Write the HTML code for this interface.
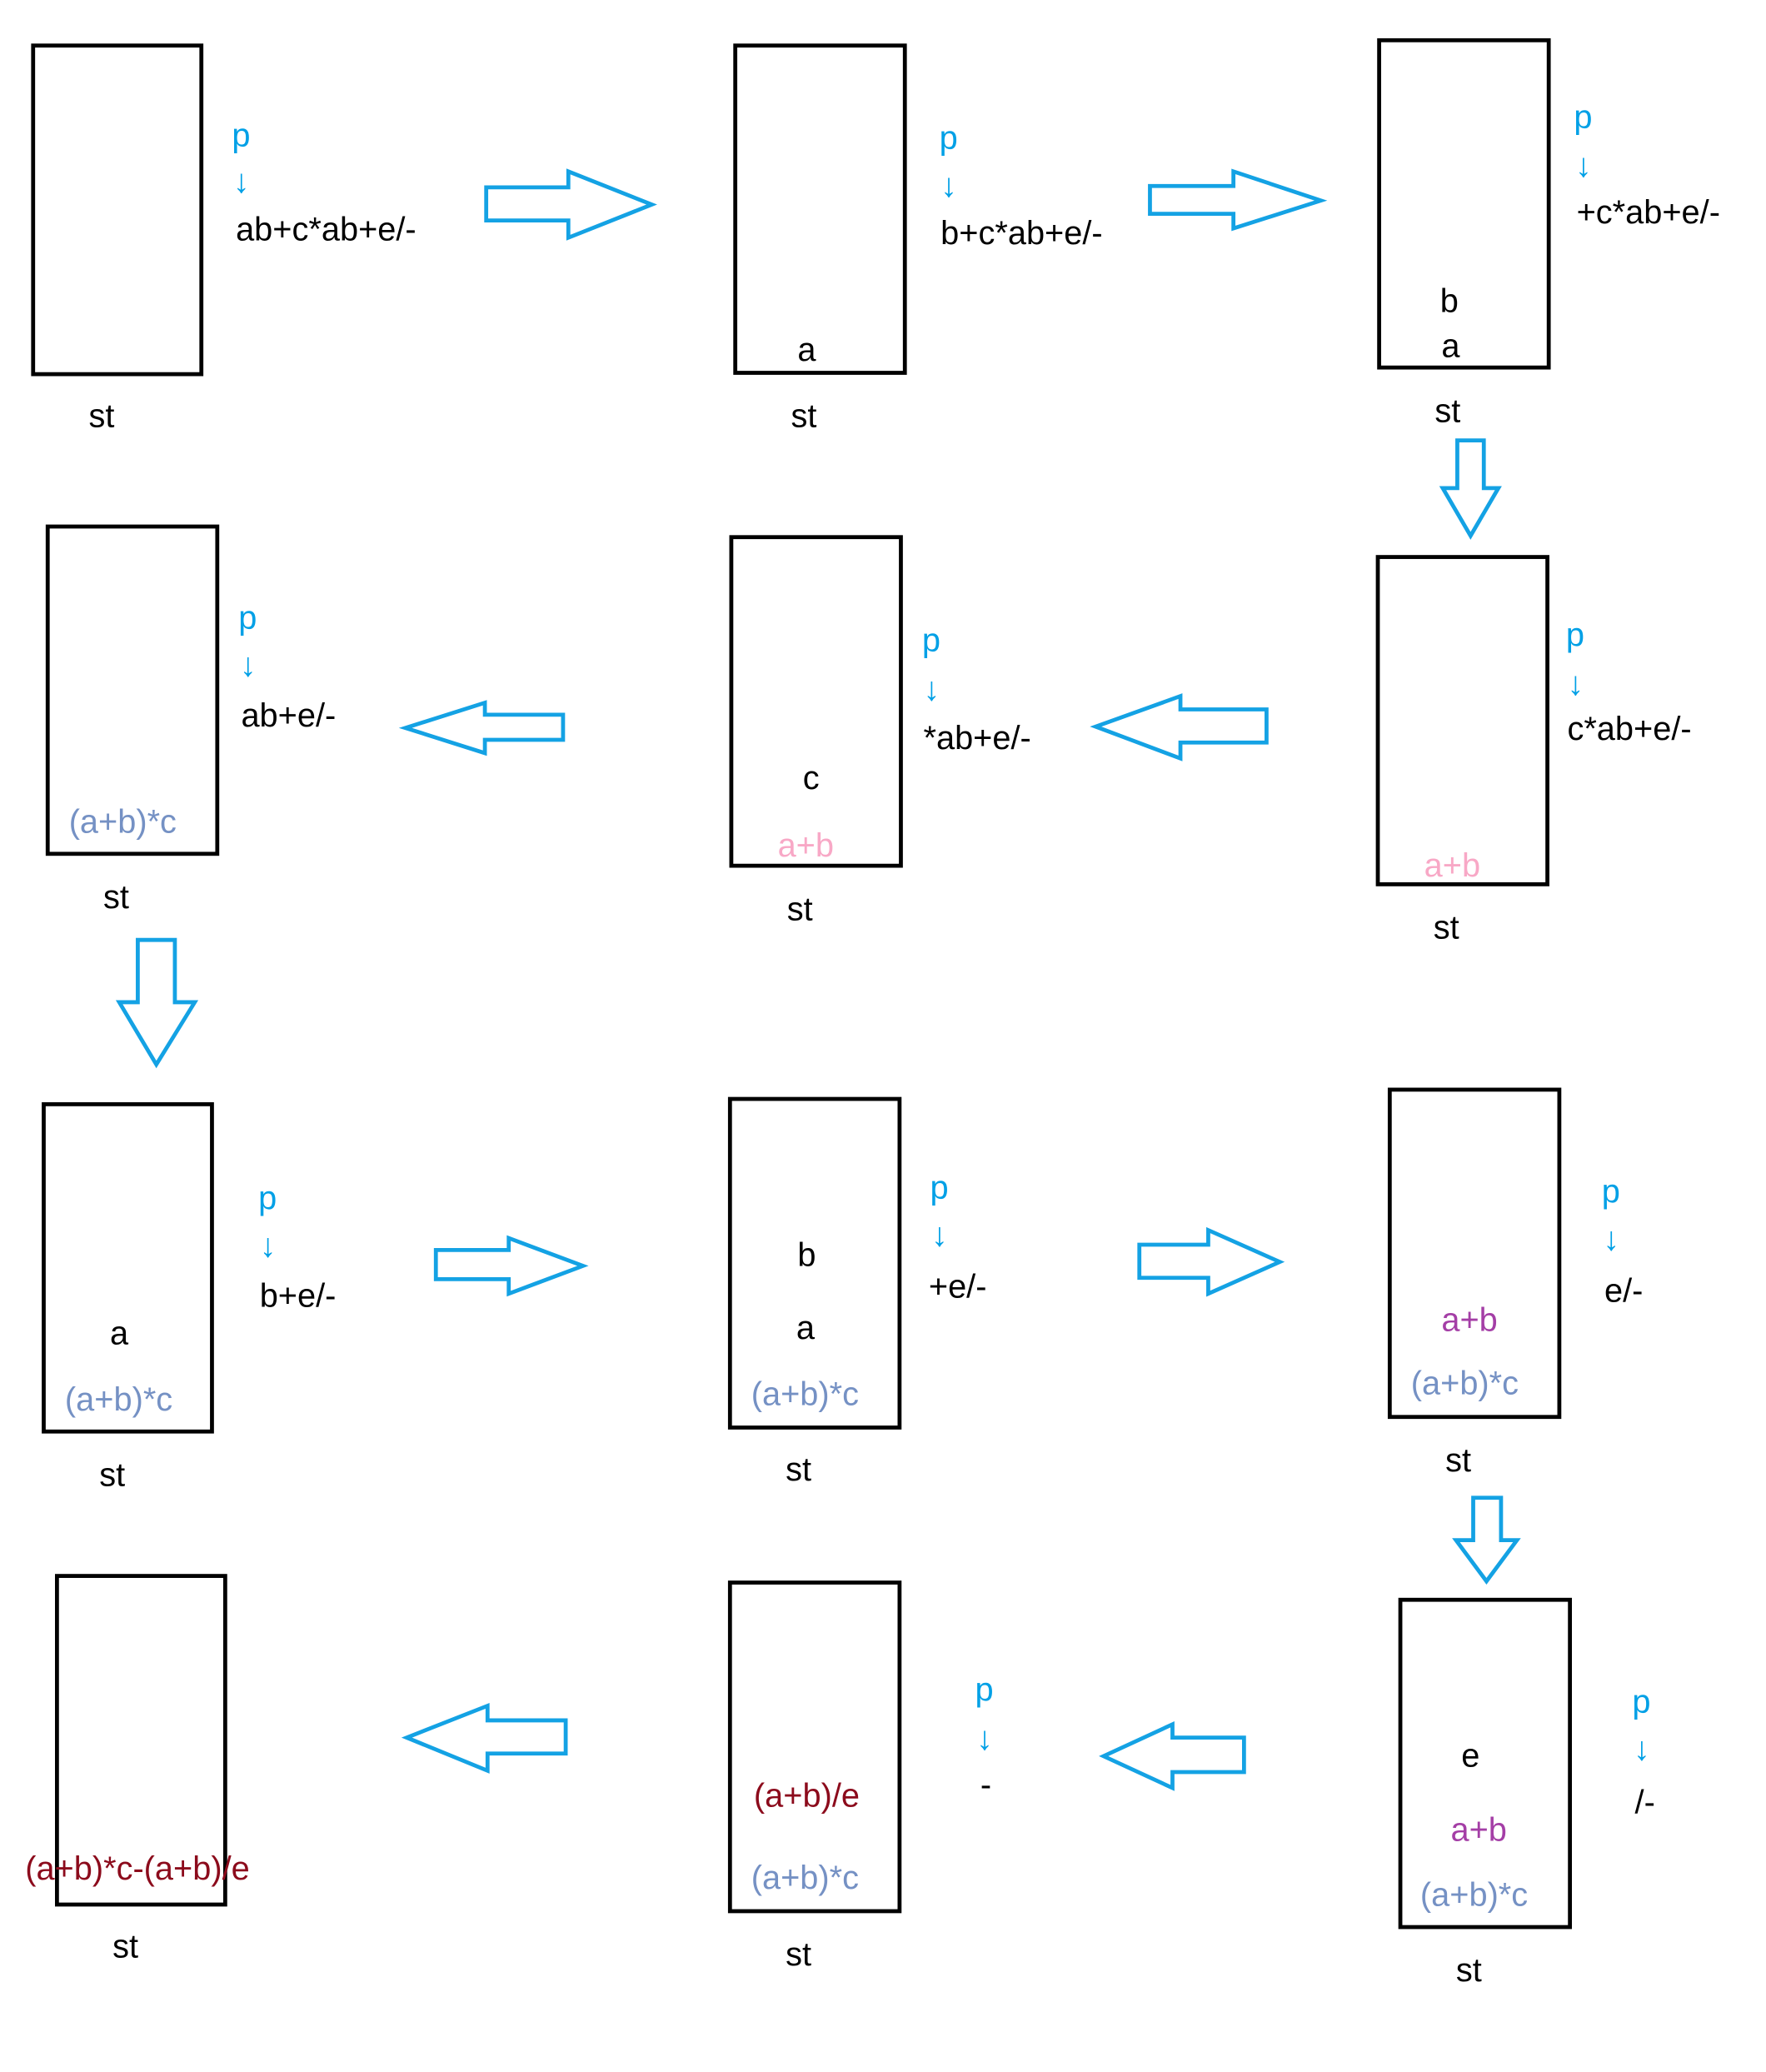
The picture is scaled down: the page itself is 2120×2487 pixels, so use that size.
<!DOCTYPE html>
<html><head><meta charset="utf-8"><style>
html,body{margin:0;padding:0;background:#fff;}
svg{display:block;}
text{font-family:"Liberation Sans",sans-serif;font-size:25px;}
.p{fill:#00a0e6;}
.k{fill:#000;}
.g{fill:#7591c4;}
.pk{fill:#f8a8c6;}
.pu{fill:#a43ea6;}
.r{fill:#8c0b1c;}
.bx{fill:none;stroke:#000;stroke-width:3;}
.ar{fill:#fff;stroke:#14a2e4;stroke-width:3;stroke-linejoin:miter;}
</style></head><body>
<svg width="2120" height="2487" viewBox="0 0 1333 1563" xmlns="http://www.w3.org/2000/svg">
<!-- boxes -->
<rect class="bx" x="25" y="34" width="127" height="248"/>
<rect class="bx" x="555" y="34" width="128" height="247"/>
<rect class="bx" x="1041" y="30" width="128" height="247"/>
<rect class="bx" x="36" y="397" width="128" height="247"/>
<rect class="bx" x="552" y="405" width="128" height="248"/>
<rect class="bx" x="1040" y="420" width="128" height="247"/>
<rect class="bx" x="33" y="833" width="127" height="247"/>
<rect class="bx" x="551" y="829" width="128" height="248"/>
<rect class="bx" x="1049" y="822" width="128" height="247"/>
<rect class="bx" x="43" y="1189" width="127" height="248"/>
<rect class="bx" x="551" y="1194" width="128" height="248"/>
<rect class="bx" x="1057" y="1207" width="128" height="247"/>

<!-- arrows -->
<polygon class="ar" points="367,141 429,141 429,129 492,154 429,179 429,166 367,166"/>
<polygon class="ar" points="868,140 931,140 931,129 997,151 931,172 931,161 868,161"/>
<polygon class="ar" points="1100,332 1120,332 1120,368 1131,368 1110,404 1089,368 1100,368"/>
<polygon class="ar" points="425,539 366,539 366,530 306,549 366,568 366,558 425,558"/>
<polygon class="ar" points="956,535 891,535 891,525 827,548 891,572 891,560 956,560"/>
<polygon class="ar" points="104,709 132,709 132,756 147,756 118,803 90,756 104,756"/>
<polygon class="ar" points="329,943 384,943 384,934 440,955 384,976 384,965 329,965"/>
<polygon class="ar" points="860,939 912,939 912,928 966,952 912,976 912,964 860,964"/>
<polygon class="ar" points="1112,1130 1133,1130 1133,1162 1145,1162 1122,1193 1099,1162 1112,1162"/>
<polygon class="ar" points="939,1311 885,1311 885,1301 833,1325 885,1349 885,1337 939,1337"/>
<polygon class="ar" points="427,1298 368,1298 368,1287 307,1311 368,1336 368,1323 427,1323"/>

<!-- B1 -->
<text class="p" x="175" y="110">p</text><text class="p" x="176" y="145">↓</text>
<text class="k" x="178" y="181">ab+c*ab+e/-</text>
<text class="k" x="67" y="322">st</text>
<!-- B2 -->
<text class="p" x="709" y="112">p</text><text class="p" x="710" y="148">↓</text>
<text class="k" x="710" y="184">b+c*ab+e/-</text>
<text class="k" x="602" y="272">a</text>
<text class="k" x="597" y="322">st</text>
<!-- B3 -->
<text class="p" x="1188" y="96">p</text><text class="p" x="1189" y="133">↓</text>
<text class="k" x="1190" y="168">+c*ab+e/-</text>
<text class="k" x="1087" y="235">b</text>
<text class="k" x="1088" y="269">a</text>
<text class="k" x="1083" y="318">st</text>
<!-- B4 -->
<text class="p" x="180" y="474">p</text><text class="p" x="181" y="510">↓</text>
<text class="k" x="182" y="548">ab+e/-</text>
<text class="g" x="52" y="628">(a+b)*c</text>
<text class="k" x="78" y="685">st</text>
<!-- B5 -->
<text class="p" x="696" y="491">p</text><text class="p" x="697" y="528">↓</text>
<text class="k" x="697" y="565">*ab+e/-</text>
<text class="k" x="606" y="595">c</text>
<text class="pk" x="587" y="646">a+b</text>
<text class="k" x="594" y="694">st</text>
<!-- B6 -->
<text class="p" x="1182" y="487">p</text><text class="p" x="1183" y="524">↓</text>
<text class="k" x="1183" y="558">c*ab+e/-</text>
<text class="pk" x="1075" y="661">a+b</text>
<text class="k" x="1082" y="708">st</text>
<!-- B7 -->
<text class="p" x="195" y="912">p</text><text class="p" x="196" y="948">↓</text>
<text class="k" x="196" y="986">b+e/-</text>
<text class="k" x="83" y="1014">a</text>
<text class="g" x="49" y="1064">(a+b)*c</text>
<text class="k" x="75" y="1121">st</text>
<!-- B8 -->
<text class="p" x="702" y="904">p</text><text class="p" x="703" y="940">↓</text>
<text class="k" x="701" y="979">+e/-</text>
<text class="k" x="602" y="955">b</text>
<text class="k" x="601" y="1010">a</text>
<text class="g" x="567" y="1060">(a+b)*c</text>
<text class="k" x="593" y="1117">st</text>
<!-- B9 -->
<text class="p" x="1209" y="907">p</text><text class="p" x="1210" y="943">↓</text>
<text class="k" x="1211" y="982">e/-</text>
<text class="pu" x="1088" y="1004">a+b</text>
<text class="g" x="1065" y="1052">(a+b)*c</text>
<text class="k" x="1091" y="1110">st</text>
<!-- B10 -->
<text class="r" x="19" y="1418">(a+b)*c-(a+b)/e</text>
<text class="k" x="85" y="1477">st</text>
<!-- B11 -->
<text class="p" x="736" y="1283">p</text><text class="p" x="737" y="1320">↓</text>
<text class="k" x="740" y="1355">-</text>
<text class="r" x="569" y="1363">(a+b)/e</text>
<text class="g" x="567" y="1425">(a+b)*c</text>
<text class="k" x="593" y="1483">st</text>
<!-- B12 -->
<text class="p" x="1232" y="1292">p</text><text class="p" x="1233" y="1328">↓</text>
<text class="k" x="1234" y="1368">/-</text>
<text class="k" x="1103" y="1333">e</text>
<text class="pu" x="1095" y="1389">a+b</text>
<text class="g" x="1072" y="1438">(a+b)*c</text>
<text class="k" x="1099" y="1495">st</text>
</svg>
</body></html>
